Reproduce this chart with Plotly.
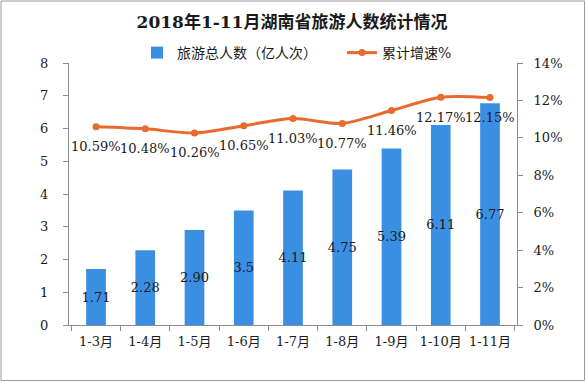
import plotly.graph_objects as go

categories = ["1-3月", "1-4月", "1-5月", "1-6月", "1-7月", "1-8月", "1-9月", "1-10月", "1-11月"]
tourists = [1.71, 2.28, 2.90, 3.5, 4.11, 4.75, 5.39, 6.11, 6.77]
tourist_labels = ["1.71", "2.28", "2.90", "3.5", "4.11", "4.75", "5.39", "6.11", "6.77"]
growth = [10.59, 10.48, 10.26, 10.65, 11.03, 10.77, 11.46, 12.17, 12.15]
growth_labels = ["10.59%", "10.48%", "10.26%", "10.65%", "11.03%", "10.77%", "11.46%", "12.17%", "12.15%"]

FONT = "DejaVu Serif, Noto Sans CJK SC, serif"
TFONT = "DejaVu Serif, Noto Sans CJK SC, serif"
BAR_C = "#3B8FE3"
LINE_C = "#E86A2C"
AX_C = "#8C8C8C"
TXT = "#1a1a1a"

W, H = 586, 382
ml, mr, mt, mb = 69, 69, 63, 57
pw, ph = W - ml - mr, H - mt - mb

fig = go.Figure()
fig.add_trace(go.Bar(
    x=categories, y=tourists, name="旅游总人数（亿人次）",
    marker=dict(color=BAR_C, line=dict(width=0)),
    text=tourist_labels, textposition="inside", insidetextanchor="middle",
    constraintext="none", cliponaxis=False,
    textfont=dict(family=FONT, size=13, color=TXT),
    textangle=0, width=0.4, yaxis="y",
))
fig.add_trace(go.Scatter(
    x=categories, y=growth, name="累计增速%", mode="lines+markers",
    line=dict(color=LINE_C, width=3, shape="spline", smoothing=0.8),
    marker=dict(color=LINE_C, size=7),
    yaxis="y2",
))
for c, g, lab in zip(categories, growth, growth_labels):
    fig.add_annotation(x=c, y=g, xref="x", yref="y2", text=lab, showarrow=False,
                       yshift=-20, font=dict(family=FONT, size=13, color=TXT))

fig.add_shape(type="rect", xref="paper", yref="paper",
              x0=-(ml - 1) / pw, x1=1 + (mr - 1.5) / pw, y0=-(mb - 1.5) / ph, y1=1 + (mt - 1) / ph,
              line=dict(color="#9a9a9a", width=1), layer="below")

fig.update_layout(
    width=W, height=H,
    margin=dict(l=ml, r=mr, t=mt, b=mb, autoexpand=False),
    paper_bgcolor="white", plot_bgcolor="white",
    title=dict(text="<b>2018年1-11月湖南省旅游人数统计情况</b>", x=292 / W, xanchor="center",
               y=1 - 22 / H, yanchor="middle", xref="container", yref="container",
               font=dict(family=TFONT, size=17, color=TXT)),
    legend=dict(orientation="h", xref="container", yref="container",
                x=137 / W, xanchor="left", y=1 - 53 / H, yanchor="middle",
                font=dict(family=FONT, size=14, color=TXT), bgcolor="rgba(0,0,0,0)",
                borderwidth=0, entrywidth=160, entrywidthmode="pixels"),
    bargap=0.6,
    showlegend=True,
    xaxis=dict(showline=True, linecolor=AX_C, linewidth=1, ticks="outside", tickcolor=AX_C,
               ticklen=5, tickson="boundaries", showgrid=False, ticklabelstandoff=4,
               tickangle=0,
               tickfont=dict(family=FONT, size=13, color=TXT)),
    yaxis=dict(range=[0, 8], dtick=1, showline=True, linecolor=AX_C, linewidth=1,
               ticks="outside", tickcolor=AX_C, ticklen=5, showgrid=False, zeroline=False,
               ticklabelstandoff=12,
               tickfont=dict(family=FONT, size=13, color=TXT)),
    yaxis2=dict(range=[0, 14], dtick=2, ticksuffix="%", overlaying="y", side="right",
                showline=True, linecolor=AX_C, linewidth=1, ticks="outside", tickcolor=AX_C,
                ticklen=5, showgrid=False, zeroline=False, ticklabelstandoff=8,
                tickfont=dict(family=FONT, size=13, color=TXT)),
)

fig.write_html("out.html", config={"displayModeBar": False},
               post_script="document.body.style.margin='0';")
